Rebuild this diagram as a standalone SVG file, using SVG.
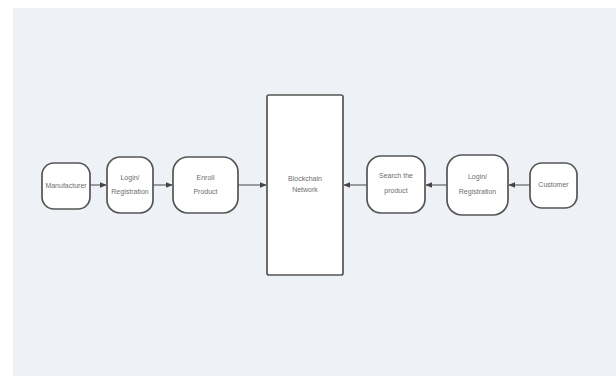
<svg xmlns="http://www.w3.org/2000/svg" width="616" height="376" viewBox="0 0 616 376">
<defs>
<style>
.node{fill:#ffffff;stroke:#555555;stroke-width:1.7}
.lbl{font-family:"Liberation Sans",Arial,sans-serif;font-size:7px;fill:#6e6e6e;text-anchor:middle}
.conn{stroke:#555555;stroke-width:1.1;fill:none}
</style>
<marker id="ah" viewBox="0 0 10 10" refX="9" refY="5" markerWidth="7" markerHeight="7" orient="auto-start-reverse" markerUnits="userSpaceOnUse">
<path d="M0,1 L10,5 L0,9 Z" fill="#444444"/>
</marker>
</defs>
<rect x="0" y="0" width="616" height="376" fill="#ffffff"/>
<rect x="13" y="8" width="603" height="368" fill="#eef2f6"/>
<g id="connectors">
<line class="conn" x1="90" y1="185" x2="106" y2="185" marker-end="url(#ah)"/>
<line class="conn" x1="153" y1="185" x2="172" y2="185" marker-end="url(#ah)"/>
<line class="conn" x1="238" y1="185" x2="266" y2="185" marker-end="url(#ah)"/>
<line class="conn" x1="367" y1="185" x2="344" y2="185" marker-end="url(#ah)"/>
<line class="conn" x1="447" y1="185" x2="426" y2="185" marker-end="url(#ah)"/>
<line class="conn" x1="530" y1="185" x2="509" y2="185" marker-end="url(#ah)"/>
</g>
<g id="manufacturer">
<rect class="node" x="42" y="163" width="48" height="46" rx="12"/>
<text class="lbl" x="66" y="188">Manufacturer</text>
</g>
<g id="login1">
<rect class="node" x="107" y="157" width="46" height="56" rx="13"/>
<text class="lbl" x="130" y="180">Login/</text>
<text class="lbl" x="130" y="194">Registration</text>
</g>
<g id="enroll">
<rect class="node" x="173" y="157" width="65" height="56" rx="15"/>
<text class="lbl" x="205.5" y="180">Enroll</text>
<text class="lbl" x="205.5" y="194">Product</text>
</g>
<g id="blockchain">
<rect class="node" x="267" y="95" width="76" height="180" rx="2" stroke-width="2" stroke="#666666"/>
<text class="lbl" x="305" y="181">Blockchain</text>
<text class="lbl" x="305" y="192">Network</text>
</g>
<g id="search">
<rect class="node" x="367" y="156" width="58" height="57" rx="14"/>
<text class="lbl" x="396" y="178">Search the</text>
<text class="lbl" x="396" y="193">product</text>
</g>
<g id="login2">
<rect class="node" x="447" y="155" width="61" height="60" rx="15"/>
<text class="lbl" x="477.5" y="179">Login/</text>
<text class="lbl" x="477.5" y="194">Registration</text>
</g>
<g id="customer">
<rect class="node" x="530" y="163" width="47" height="45" rx="12"/>
<text class="lbl" x="553.5" y="187">Customer</text>
</g>
</svg>
